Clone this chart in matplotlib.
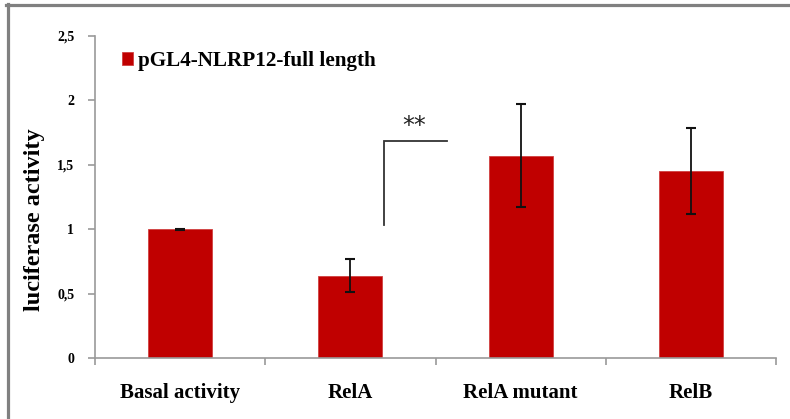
import matplotlib
matplotlib.use("Agg")
import matplotlib.pyplot as plt
from matplotlib.lines import Line2D
import numpy as np

categories = ["Basal activity", "RelA", "RelA mutant", "RelB"]
activity = [1.00, 0.64, 1.57, 1.45]
errors = [0.005, 0.125, 0.40, 0.335]
series_name = "pGL4-NLRP12-full length"
ytick_values = [0, 0.5, 1, 1.5, 2, 2.5]
ytick_labels = ["0", "0,5", "1", "1,5", "2", "2,5"]

plt.rcParams["font.family"] = ["Liberation Serif", "DejaVu Serif"]
plt.rcParams["font.weight"] = "bold"

W, H = 790, 419
fig = plt.figure(figsize=(W / 100, H / 100), dpi=100)
ax = fig.add_axes([95 / W, 1 - 358 / H, (776 - 95) / W, (358 - 36) / H])

x = np.arange(len(categories))
bars = ax.bar(x, activity, width=0.375, color="#C00000", edgecolor="#D04040",
              linewidth=0.6, label=series_name, zorder=2)
ax.errorbar(x, activity, yerr=errors, fmt="none", ecolor="#111111",
            elinewidth=1.3, capsize=3.8, capthick=1.5, zorder=3)

ax.set_xlim(-0.5, len(categories) - 0.5)
ax.set_ylim(0, 2.5)
ax.set_yticks(ytick_values)
ax.set_yticklabels(ytick_labels, fontsize=10, fontweight="bold")
ax.set_xticks(x)
ax.set_xticklabels(categories, fontsize=15, fontweight="bold")
ax.tick_params(axis="x", length=0, pad=18)
ax.set_xticks(np.arange(-0.5, len(categories), 1.0), minor=True)
ax.tick_params(axis="x", which="minor", length=5, color="#9a9a9a", width=1.2)
ax.tick_params(axis="y", length=5, color="#9a9a9a", width=1.2, pad=10)

for side in ("top", "right"):
    ax.spines[side].set_visible(False)
for side in ("left", "bottom"):
    ax.spines[side].set_color("#9a9a9a")
    ax.spines[side].set_linewidth(1.2)

ax.set_ylabel("luciferase activity", fontsize=17.5, fontweight="bold")
ax.yaxis.set_label_coords(-50 / (776 - 95), (358 - 219.5) / (358 - 36))

# significance bracket between RelA and RelA mutant
bx0, bx1 = 1.2, 1.57
by_top, by_bottom = 1.685, 1.033
ax.plot([bx0, bx0, bx1], [by_bottom, by_top, by_top], color="#333333",
        linewidth=1.3, solid_joinstyle="miter", zorder=3)
ax.text(1.375, by_top + 0.025, "**", ha="center", va="bottom",
        fontsize=17, fontweight="normal", family="DejaVu Sans", color="#222222")

leg = ax.legend(loc="upper left", bbox_to_anchor=(122 / W, 1 - 51 / H),
                bbox_transform=fig.transFigure, frameon=False, borderaxespad=0,
                borderpad=0, handlelength=0.5, handleheight=0.5,
                handletextpad=0.25, prop={"size": 15.2, "weight": "bold"})

# outer grey frame
fig.add_artist(Line2D([6 / W, 1.0], [1 - 5.5 / H, 1 - 5.5 / H], color="#808080",
                      linewidth=2.3, transform=fig.transFigure))
fig.add_artist(Line2D([7.5 / W, 7.5 / W], [0, 1 - 4 / H], color="#808080",
                      linewidth=2.3, transform=fig.transFigure))

fig.savefig("out.png", dpi=100)
